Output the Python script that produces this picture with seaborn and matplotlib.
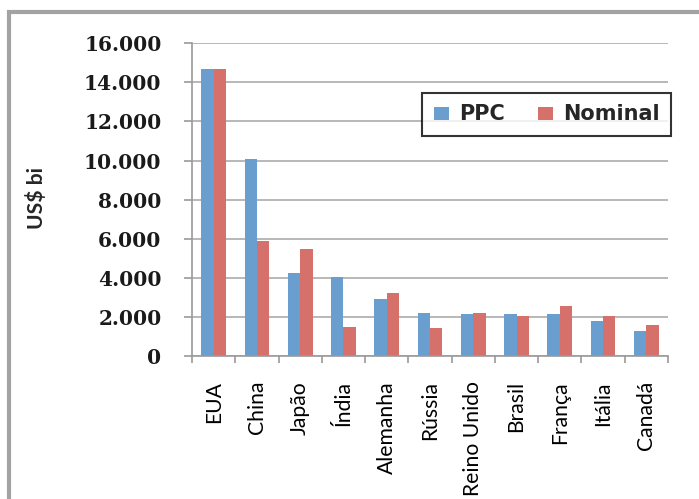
import matplotlib
matplotlib.use("Agg")
import matplotlib.pyplot as plt
import matplotlib.ticker as mticker
from matplotlib import font_manager
from matplotlib.patches import Rectangle
import seaborn as sns
import pandas as pd

countries = ["EUA", "China", "Japão", "Índia", "Alemanha", "Rússia",
             "Reino Unido", "Brasil", "França", "Itália", "Canadá"]
ppc = [14660, 10070, 4270, 4030, 2900, 2180, 2130, 2130, 2130, 1790, 1280]
nominal = [14660, 5890, 5460, 1500, 3240, 1420, 2180, 2060, 2560, 2060, 1570]
series = ["PPC", "Nominal"]
colors = ["#6A9ECF", "#D6706A"]
y_ticks = [0, 2000, 4000, 6000, 8000, 10000, 12000, 14000, 16000]

df = pd.DataFrame({
    "país": countries * 2,
    "valor": ppc + nominal,
    "série": [series[0]] * len(countries) + [series[1]] * len(countries),
})

available = {f.name for f in font_manager.fontManager.ttflist}
narrow = next((n for n in ["Liberation Sans Narrow", "Lato", "Roboto", "Open Sans"]
               if n in available), "DejaVu Sans")

sns.set_theme(style="white")
fig = plt.figure(figsize=(6.99, 4.99), dpi=100)
fig.patch.set_facecolor("white")
W, H = 699, 499
ax = fig.add_axes([192 / W, 1 - 356 / H, (668 - 192) / W, (356 - 43.3) / H])

sns.barplot(data=df, x="país", y="valor", hue="série", order=countries,
            hue_order=series, palette=colors, width=0.57, saturation=1,
            linewidth=0, ax=ax)

ax.set_xlim(-0.5, len(countries) - 0.5)
ax.set_ylim(0, 16000)
ax.set_yticks(y_ticks)
ax.yaxis.set_major_formatter(mticker.FuncFormatter(lambda v, p: f"{int(v):,}".replace(",", ".")))
ax.grid(axis="y", color="#ABABAB", linewidth=1.2)
ax.set_axisbelow(True)
for s in ["top", "right"]:
    ax.spines[s].set_visible(False)
for s in ["left", "bottom"]:
    ax.spines[s].set_color("#9A9A9A")
    ax.spines[s].set_linewidth(1.2)

ax.set_xlabel("")
ax.set_ylabel("")

ax.tick_params(axis="y", which="major", left=True, length=6, width=1.2, color="#9A9A9A", pad=16)
for lbl in ax.get_yticklabels():
    lbl.set_fontfamily("DejaVu Serif")
    lbl.set_fontweight("bold")
    lbl.set_fontsize(14.5)
    lbl.set_color("#1A1A1A")

ax.set_xticks([i - 0.5 for i in range(len(countries) + 1)], minor=True)
ax.tick_params(axis="x", which="minor", bottom=True, length=5, width=1.2, color="#9A9A9A")
ax.tick_params(axis="x", which="major", bottom=False, length=0, pad=18, rotation=90)

# size the narrow label font so "Reino Unido" is about 115 px long, as in the reference
renderer = fig.canvas.get_renderer()
probe = fig.text(0, 0, "Reino Unido", family=narrow, fontsize=10)
w10 = probe.get_window_extent(renderer).width
probe.remove()
xsize = 10 * 115 / w10
for lbl in ax.get_xticklabels():
    lbl.set_fontfamily(narrow)
    lbl.set_fontsize(xsize)
    lbl.set_color("black")

leg = ax.legend(loc="upper right", bbox_to_anchor=(1.006, 0.841), borderaxespad=0,
                ncol=2, frameon=True, fancybox=False, handlelength=0.75,
                handleheight=0.6, handletextpad=0.45, columnspacing=1.6,
                borderpad=0.55, prop={"family": "DejaVu Sans", "weight": "bold", "size": 15})
leg.get_frame().set_edgecolor("black")
leg.get_frame().set_linewidth(1.5)
leg.set_title(None)

probe = fig.text(0, 0, "US$ bi", family=narrow, fontsize=10, fontweight="bold")
wy = probe.get_window_extent(renderer).width
probe.remove()
fig.text(36 / W, 1 - 198 / H, "US$ bi", rotation=90, ha="center", va="center",
         fontsize=10 * 62 / wy, fontweight="bold", family=narrow)

fig.patches.append(Rectangle((9 / W, -0.2), 1.5, 1.2 - 12 / H, transform=fig.transFigure,
                             fill=False, edgecolor="#A3A3A3", linewidth=3, figure=fig))

fig.savefig("out.png", dpi=100, facecolor="white")
